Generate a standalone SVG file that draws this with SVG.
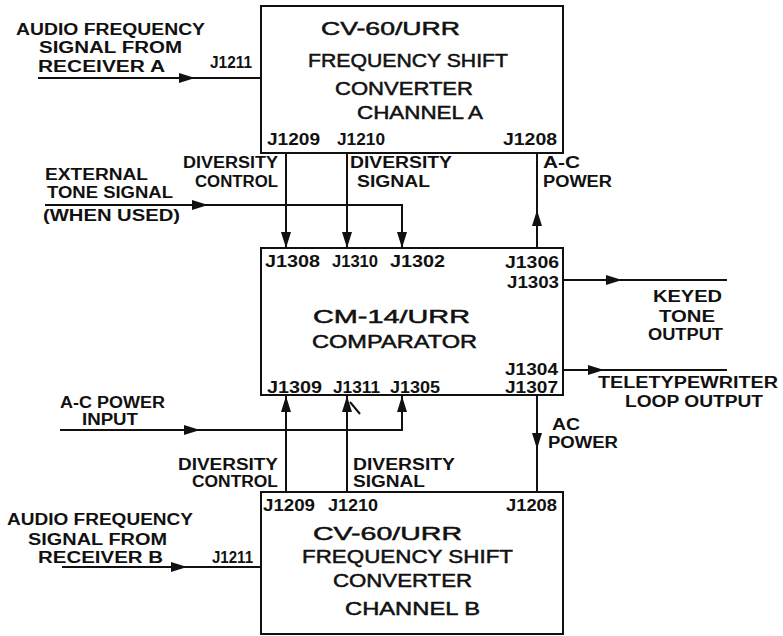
<svg xmlns="http://www.w3.org/2000/svg" xmlns:xlink="http://www.w3.org/1999/xlink" width="783" height="636" viewBox="0 0 783 636">
<style>
text{font-family:"Liberation Sans",Arial,sans-serif;font-weight:bold;fill:#111;}
.t{font-size:19px;font-weight:normal;stroke:#111;stroke-width:0.5;}
.l{font-size:16px;}
.p{font-size:16px;}
.box{fill:#fff;stroke:#111;stroke-width:2;}
.w{fill:none;stroke:#111;stroke-width:2;}
</style>
<defs>
<path id="ah" d="M0,0 L-16,-5 L-16,5 Z" fill="#111"/>
</defs>
<rect width="783" height="636" fill="#fff"/>

<g id="connectors">
<!-- Receiver A input -->
<path class="w" d="M38,78 H261"/>
<use xlink:href="#ah" transform="translate(195,78)"/>
<!-- diversity control A -> J1308 -->
<path class="w" d="M286,153 V248"/>
<use xlink:href="#ah" transform="translate(286,248) rotate(90)"/>
<!-- diversity signal A -> J1310 -->
<path class="w" d="M347,153 V248"/>
<use xlink:href="#ah" transform="translate(347,248) rotate(90)"/>
<!-- external tone -> J1302 -->
<path class="w" d="M45,205 H402 V248"/>
<use xlink:href="#ah" transform="translate(208,205)"/>
<use xlink:href="#ah" transform="translate(402,248) rotate(90)"/>
<!-- A-C power J1306 -> J1208 -->
<path class="w" d="M537,248 V153"/>
<use xlink:href="#ah" transform="translate(537,210) rotate(-90)"/>
<!-- keyed tone output -->
<path class="w" d="M563,280 H727"/>
<use xlink:href="#ah" transform="translate(622,280)"/>
<!-- teletypewriter loop -->
<path class="w" d="M563,370 H727"/>
<use xlink:href="#ah" transform="translate(604,370)"/>
<!-- A-C power input -> J1305 -->
<path class="w" d="M60,430 H402 V395"/>
<use xlink:href="#ah" transform="translate(200,430)"/>
<use xlink:href="#ah" transform="translate(402,396) rotate(-90)"/>
<!-- diversity control B -> J1309 -->
<path class="w" d="M286,492 V395"/>
<use xlink:href="#ah" transform="translate(286,396) rotate(-90)"/>
<!-- diversity signal B -> J1311 -->
<path class="w" d="M347,492 V395"/>
<use xlink:href="#ah" transform="translate(347,396) rotate(-90)"/>
<path class="w" d="M350,402 L360,414" stroke-width="3"/>
<!-- AC power J1307 -> J1208 B -->
<path class="w" d="M537,395 V492"/>
<use xlink:href="#ah" transform="translate(537,449) rotate(90)"/>
<!-- Receiver B input -->
<path class="w" d="M62,567 H261"/>
<use xlink:href="#ah" transform="translate(187,567)"/>
</g>

<g id="converterA">
<rect class="box" x="261" y="6" width="302" height="147"/>
<text class="t" x="321" y="35" textLength="139" lengthAdjust="spacingAndGlyphs">CV-60/URR</text>
<text class="t" x="308" y="67" textLength="200" lengthAdjust="spacingAndGlyphs">FREQUENCY SHIFT</text>
<text class="t" x="335" y="95" textLength="138" lengthAdjust="spacingAndGlyphs">CONVERTER</text>
<text class="t" x="357" y="119" textLength="126" lengthAdjust="spacingAndGlyphs">CHANNEL A</text>
<text class="p" x="267" y="145" textLength="53" lengthAdjust="spacingAndGlyphs">J1209</text>
<text class="p" x="337" y="145" textLength="48" lengthAdjust="spacingAndGlyphs">J1210</text>
<text class="p" x="503" y="145" textLength="54" lengthAdjust="spacingAndGlyphs">J1208</text>
</g>

<g id="comparator">
<rect class="box" x="261" y="248" width="302" height="147"/>
<text class="p" x="265" y="267" textLength="55" lengthAdjust="spacingAndGlyphs">J1308</text>
<text class="p" x="332" y="267" textLength="46" lengthAdjust="spacingAndGlyphs">J1310</text>
<text class="p" x="390" y="267" textLength="55" lengthAdjust="spacingAndGlyphs">J1302</text>
<text class="p" x="505" y="268" textLength="54" lengthAdjust="spacingAndGlyphs">J1306</text>
<text class="p" x="507" y="288" textLength="52" lengthAdjust="spacingAndGlyphs">J1303</text>
<text class="t" x="313" y="323" textLength="157" lengthAdjust="spacingAndGlyphs">CM-14/URR</text>
<text class="t" x="312" y="348" textLength="165" lengthAdjust="spacingAndGlyphs">COMPARATOR</text>
<text class="p" x="505" y="375" textLength="53" lengthAdjust="spacingAndGlyphs">J1304</text>
<text class="p" x="267" y="393" textLength="55" lengthAdjust="spacingAndGlyphs">J1309</text>
<text class="p" x="333" y="393" textLength="47" lengthAdjust="spacingAndGlyphs">J1311</text>
<text class="p" x="390" y="393" textLength="50" lengthAdjust="spacingAndGlyphs">J1305</text>
<text class="p" x="505" y="393" textLength="53" lengthAdjust="spacingAndGlyphs">J1307</text>
</g>

<g id="converterB">
<rect class="box" x="261" y="492" width="302" height="142"/>
<text class="p" x="263" y="511" textLength="52" lengthAdjust="spacingAndGlyphs">J1209</text>
<text class="p" x="328" y="511" textLength="50" lengthAdjust="spacingAndGlyphs">J1210</text>
<text class="p" x="506" y="511" textLength="51" lengthAdjust="spacingAndGlyphs">J1208</text>
<text class="t" x="313" y="540" textLength="149" lengthAdjust="spacingAndGlyphs">CV-60/URR</text>
<text class="t" x="302" y="563" textLength="211" lengthAdjust="spacingAndGlyphs">FREQUENCY SHIFT</text>
<text class="t" x="333" y="587" textLength="139" lengthAdjust="spacingAndGlyphs">CONVERTER</text>
<text class="t" x="345" y="615" textLength="135" lengthAdjust="spacingAndGlyphs">CHANNEL B</text>
</g>

<g id="labels">
<text class="l" x="16" y="35" textLength="189" lengthAdjust="spacingAndGlyphs">AUDIO FREQUENCY</text>
<text class="l" x="39" y="53" textLength="143" lengthAdjust="spacingAndGlyphs">SIGNAL FROM</text>
<text class="l" x="38" y="72" textLength="127" lengthAdjust="spacingAndGlyphs">RECEIVER A</text>
<text class="p" x="210" y="68" textLength="42" lengthAdjust="spacingAndGlyphs">J1211</text>

<text class="l" x="183" y="168" textLength="95" lengthAdjust="spacingAndGlyphs">DIVERSITY</text>
<text class="l" x="195" y="187" textLength="83" lengthAdjust="spacingAndGlyphs">CONTROL</text>
<text class="l" x="350" y="168" textLength="102" lengthAdjust="spacingAndGlyphs">DIVERSITY</text>
<text class="l" x="357" y="187" textLength="73" lengthAdjust="spacingAndGlyphs">SIGNAL</text>
<text class="l" x="543" y="168" textLength="37" lengthAdjust="spacingAndGlyphs">A-C</text>
<text class="l" x="543" y="187" textLength="69" lengthAdjust="spacingAndGlyphs">POWER</text>

<text class="l" x="45" y="180" textLength="103" lengthAdjust="spacingAndGlyphs">EXTERNAL</text>
<text class="l" x="47" y="198" textLength="126" lengthAdjust="spacingAndGlyphs">TONE SIGNAL</text>
<text class="l" x="43" y="221" textLength="137" lengthAdjust="spacingAndGlyphs">(WHEN USED)</text>

<text class="l" x="653" y="302" textLength="69" lengthAdjust="spacingAndGlyphs">KEYED</text>
<text class="l" x="659" y="322" textLength="56" lengthAdjust="spacingAndGlyphs">TONE</text>
<text class="l" x="648" y="340" textLength="75" lengthAdjust="spacingAndGlyphs">OUTPUT</text>
<text class="l" x="598" y="388" textLength="180" lengthAdjust="spacingAndGlyphs">TELETYPEWRITER</text>
<text class="l" x="625" y="407" textLength="138" lengthAdjust="spacingAndGlyphs">LOOP OUTPUT</text>

<text class="l" x="60" y="408" textLength="105" lengthAdjust="spacingAndGlyphs">A-C POWER</text>
<text class="l" x="82" y="425" textLength="56" lengthAdjust="spacingAndGlyphs">INPUT</text>

<text class="l" x="552" y="430" textLength="28" lengthAdjust="spacingAndGlyphs">AC</text>
<text class="l" x="548" y="448" textLength="70" lengthAdjust="spacingAndGlyphs">POWER</text>

<text class="l" x="178" y="470" textLength="100" lengthAdjust="spacingAndGlyphs">DIVERSITY</text>
<text class="l" x="192" y="487" textLength="86" lengthAdjust="spacingAndGlyphs">CONTROL</text>
<text class="l" x="353" y="470" textLength="102" lengthAdjust="spacingAndGlyphs">DIVERSITY</text>
<text class="l" x="353" y="487" textLength="72" lengthAdjust="spacingAndGlyphs">SIGNAL</text>

<text class="l" x="7" y="525" textLength="186" lengthAdjust="spacingAndGlyphs">AUDIO FREQUENCY</text>
<text class="l" x="28" y="545" textLength="139" lengthAdjust="spacingAndGlyphs">SIGNAL FROM</text>
<text class="l" x="38" y="563" textLength="125" lengthAdjust="spacingAndGlyphs">RECEIVER B</text>
<text class="p" x="212" y="563" textLength="41" lengthAdjust="spacingAndGlyphs">J1211</text>
</g>
</svg>
